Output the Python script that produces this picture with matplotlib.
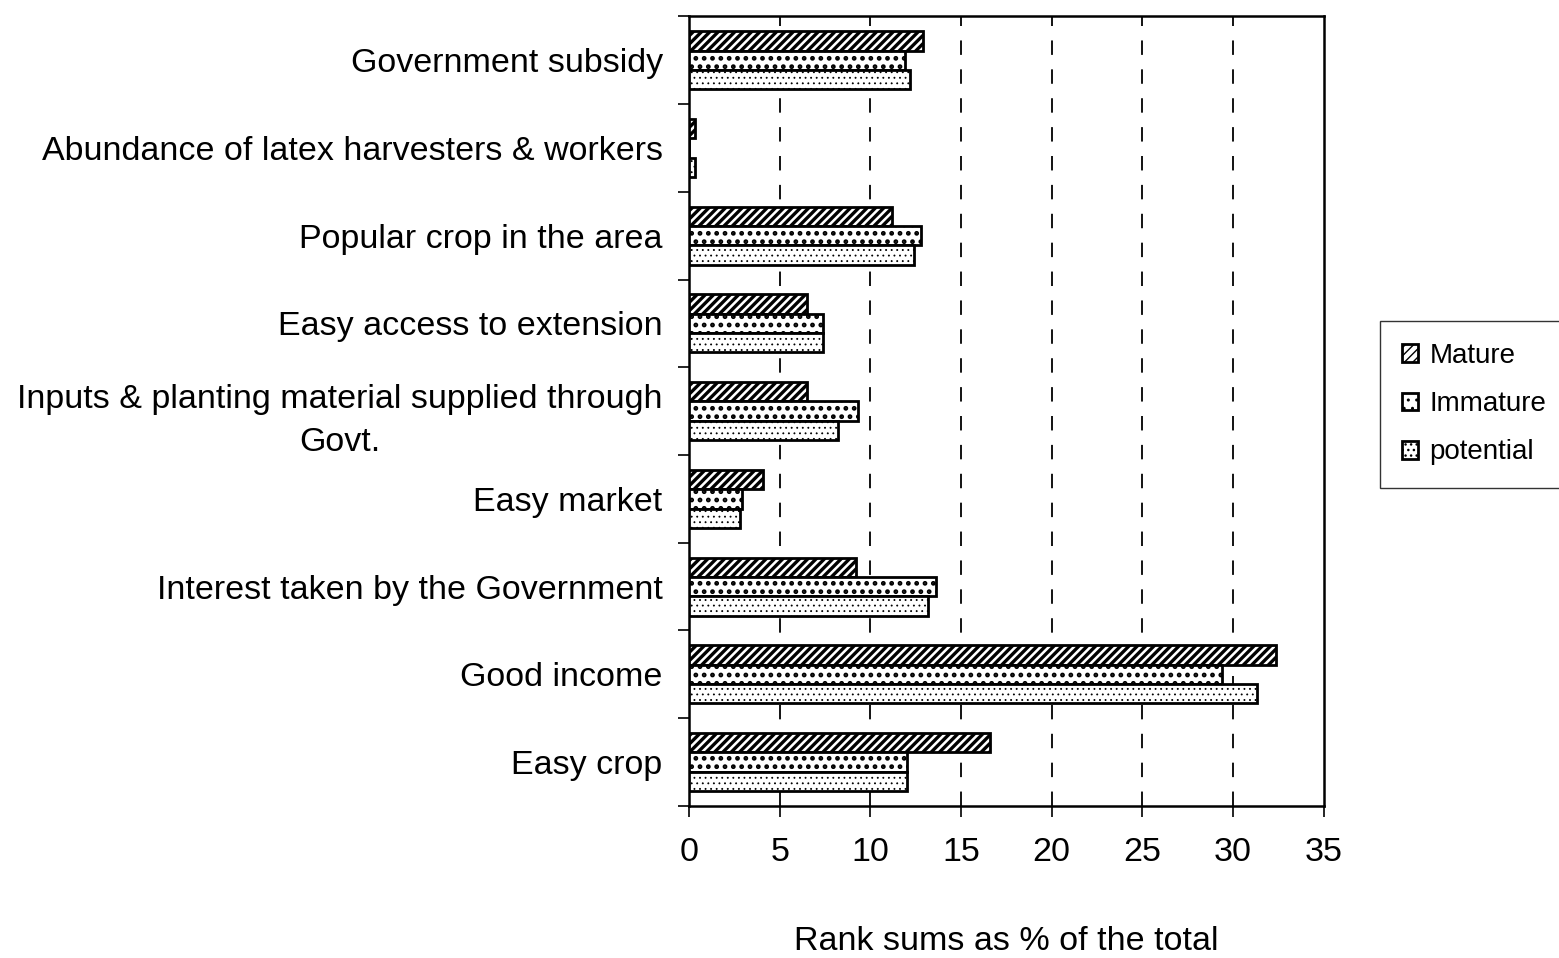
import numpy as np
import matplotlib
matplotlib.use("Agg")
import matplotlib.pyplot as plt

plt.rcParams["font.family"] = ["Liberation Sans", "DejaVu Sans"]

categories = [
    "Government subsidy",
    "Abundance of latex harvesters & workers",
    "Popular crop in the area",
    "Easy access to extension",
    "Inputs & planting material supplied through\nGovt.",
    "Easy market",
    "Interest taken by the Government",
    "Good income",
    "Easy crop",
]
mature = [12.9, 0.3, 11.2, 6.5, 6.5, 4.1, 9.2, 32.4, 16.6]
immature = [11.9, 0.0, 12.8, 7.4, 9.3, 2.9, 13.6, 29.4, 12.0]
potential = [12.2, 0.3, 12.4, 7.4, 8.2, 2.8, 13.2, 31.3, 12.0]
series_names = ["Mature", "Immature", "potential"]
xticks = [0, 5, 10, 15, 20, 25, 30, 35]

fig = plt.figure(figsize=(15.59, 9.58), dpi=100)
ax = fig.add_axes([0.442, 0.1587, 0.407, 0.8243])

y = np.arange(len(categories))
h = 0.22
# hatch pattern and hatch line width per series
hatches = [("////", 2.4), ("..", 2.2), ("...", 0.6)]
bars = []
for i, vals in enumerate([mature, immature, potential]):
    hatch, hlw = hatches[i]
    with plt.rc_context({"hatch.linewidth": hlw}):
        b = ax.barh(y - h + i * h, vals, height=h, facecolor="white",
                    edgecolor="black", hatch=hatch, linewidth=2,
                    label=series_names[i], zorder=3)
    bars.append(b)

ax.set_xlim(0, 35)
ax.set_ylim(len(categories) - 0.5, -0.5)
ax.set_xticks(xticks)
ax.set_xticklabels([str(t) for t in xticks], fontsize=24.5)
ax.set_yticks(y)
ax.set_yticklabels(categories, fontsize=24.5)
for lab in ax.get_yticklabels():
    lab.set_multialignment("center")
    lab.set_linespacing(1.5)
ax.set_yticks(np.arange(len(categories) + 1) - 0.5, minor=True)
ax.tick_params(axis="y", which="major", length=0, pad=19)
ax.tick_params(axis="y", which="minor", length=8, width=1.2, direction="out")
ax.tick_params(axis="x", length=8, width=1.2, direction="out", pad=14)

for t in xticks[1:-1]:
    ax.axvline(t, color="black", linestyle=(0, (8, 8)), linewidth=1.3, zorder=1)

for sp in ax.spines.values():
    sp.set_linewidth(1.8)

ax.set_xlabel("Rank sums as % of the total", fontsize=24.5, labelpad=42)

fig.legend(handles=bars, labels=series_names, loc="center left",
           bbox_to_anchor=(0.876, 0.578), fontsize=20, frameon=True,
           fancybox=False, edgecolor="black", handlelength=0.6,
           handleheight=0.6, handletextpad=0.4, labelspacing=0.8,
           borderpad=0.8)

fig.savefig("out.png", dpi=100)
